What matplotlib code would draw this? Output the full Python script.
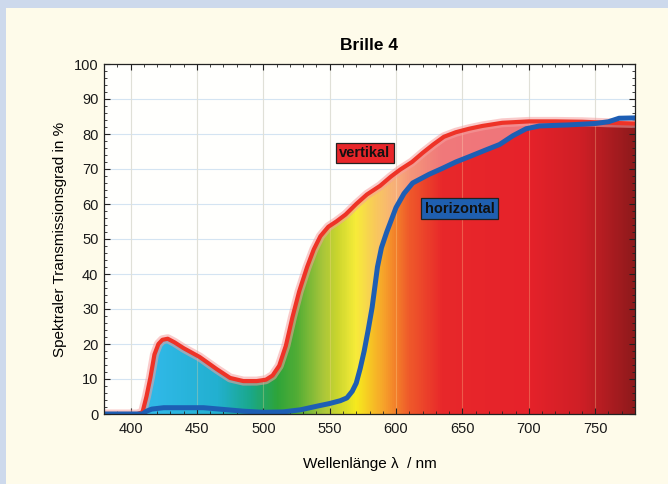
import numpy as np
import matplotlib
matplotlib.use("Agg")
import matplotlib.pyplot as plt
from matplotlib.colors import LinearSegmentedColormap
from matplotlib.patches import Rectangle
from matplotlib.path import Path

plt.rcParams['font.family'] = ['Liberation Sans', 'DejaVu Sans']

# ---- data ----
wl_vert = [380, 405, 409, 412, 415, 418, 421, 424, 428, 433, 440, 452, 465, 475, 485, 495,
           502, 507, 512, 517, 522, 527, 533, 538, 543, 549, 555, 562, 570, 578, 588, 596,
           603, 612, 620, 628, 636, 645, 655, 665, 680, 700, 720, 740, 760, 780]
vertikal = [0, 0, 0.5, 5, 10.5, 17, 20, 21.2, 21.5, 20.5, 18.8, 16.3, 12.8, 10.3, 9.4, 9.4,
            9.8, 11, 13.8, 19.5, 27.7, 35, 42, 47, 50.8, 53.5, 55, 57, 60, 62.7, 65.2, 67.8,
            69.8, 72, 74.6, 77, 79.2, 80.5, 81.5, 82.3, 83.2, 83.6, 83.6, 83.5, 83.2, 83]
wl_hor = [380, 409, 412, 416, 425, 440, 455, 470, 485, 500, 515, 528, 540, 550, 558, 563,
          567, 570, 573, 576, 579, 582, 586, 589, 593, 597, 600, 606, 612.5, 625, 635, 645,
          655, 668, 678, 688, 698, 708, 730, 750, 760, 768, 780]
horizontal = [0, 0, 0.8, 1.4, 1.8, 1.8, 1.8, 1.3, 0.8, 0.5, 0.6, 1.2, 2.2, 3, 3.8, 4.6,
              6.5, 8.8, 13, 18, 24, 30.5, 42, 47.5, 52, 56, 59, 63, 66, 68.5, 70.2, 72,
              73.5, 75.5, 77, 79.5, 81.5, 82.3, 82.6, 83, 83.5, 84.5, 84.6]
x_ticks = [400, 450, 500, 550, 600, 650, 700, 750]
y_ticks = [0, 10, 20, 30, 40, 50, 60, 70, 80, 90, 100]

# spectral gradient stops (wavelength, colour)
spec_wl = [380, 420, 465, 490, 510, 525, 545, 570, 590, 610, 635, 700, 740, 780]
spec_col = ['#2fb8e6', '#2fb8e6', '#22b0d0', '#1aa88a', '#2ea43a', '#52ad35', '#a9c63a',
            '#f6ea1e', '#f7a52a', '#ef5a2a', '#e8282b', '#e6222a', '#cf1f26', '#8f1a1c']

fig = plt.figure(figsize=(6.68, 4.84), dpi=100)
fig.patch.set_facecolor('#cdd9ec')
fig.patches.append(Rectangle((6 / 668, 0), 1, 1 - 8 / 484, transform=fig.transFigure,
                             facecolor='#fefbea', edgecolor='none', zorder=-10))

ax = fig.add_axes([104 / 668, 70 / 484, 531 / 668, 350 / 484])
ax.set_facecolor('#fffffd')
ax.set_xlim(380, 780)
ax.set_ylim(0, 100)

# gradient clipped under vertikal curve
pos = [(w - 380) / 400 for w in spec_wl]
cmap = LinearSegmentedColormap.from_list('spec', list(zip(pos, spec_col)))
grad = np.linspace(0, 1, 800).reshape(1, -1)
im = ax.imshow(grad, extent=[380, 780, 0, 100], aspect='auto', cmap=cmap,
               origin='lower', zorder=1, interpolation='bilinear')
poly = ax.fill_between(wl_vert, vertikal, 0, color='none', zorder=0)
im.set_clip_path(poly.get_paths()[0], transform=ax.transData)

# paler zone between the two curves (white veil with alpha ramp along wavelength)
gx = np.linspace(380, 780, 800)
alpha = np.clip((gx - 555) / 45, 0, 1) * 0.38
veil = np.ones((1, 800, 4))
veil[0, :, 3] = alpha
vim = ax.imshow(veil, extent=[380, 780, 0, 100], aspect='auto', origin='lower',
                zorder=2, interpolation='bilinear')
between = list(zip(wl_vert, vertikal)) + list(zip(wl_hor[::-1], horizontal[::-1]))
vim.set_clip_path(Path(between + [between[0]], closed=True), transform=ax.transData)

# grid
for x in x_ticks:
    ax.axvline(x, color='#d4e4f2', lw=0.8, zorder=0.5)
for y in y_ticks[1:-1]:
    ax.axhline(y, color='#d4e4f2', lw=0.8, zorder=0.5)
for x in x_ticks:
    ax.plot([x, x], [0, 100], color=(1, 0.85, 0.6, 0.3), lw=0.8, zorder=1.5)

# curves
ax.plot(wl_vert, vertikal, color='#f5a0a0', lw=6.5, alpha=0.55, zorder=3, solid_joinstyle='round')
ax.plot(wl_vert, vertikal, color='#ee3327', lw=3.0, zorder=4, solid_joinstyle='round')
ax.plot(wl_hor, horizontal, color='#1d5eb4', lw=3.6, zorder=5, solid_joinstyle='round')

# labels
ax.text(576.6, 74.6, 'vertikal', fontsize=10.5, fontweight='bold', ha='center', va='center',
        zorder=6, color='#111111',
        bbox=dict(boxstyle='square,pad=0.22', fc='#e8262a', ec='#222222', lw=0.9))
ax.text(647.8, 58.7, 'horizontal', fontsize=10.5, fontweight='bold', ha='center', va='center',
        zorder=6, color='#111111',
        bbox=dict(boxstyle='square,pad=0.22', fc='#1f5fb0', ec='#222222', lw=0.9))

ax.set_xticks(x_ticks)
ax.set_yticks(y_ticks)
ax.set_xticks(np.arange(380, 781, 10), minor=True)
ax.set_yticks(np.arange(0, 101, 2), minor=True)
ax.tick_params(which='both', direction='in', top=True, right=True, colors='#222222',
               labelsize=10.5, labelcolor='#1a1a1a')
ax.tick_params(which='major', length=4, width=0.8)
ax.tick_params(which='minor', length=2, width=0.6)
ax.tick_params(axis='x', which='major', pad=6)
ax.tick_params(axis='y', which='major', pad=4)
for s in ax.spines.values():
    s.set_color('#222222')
    s.set_linewidth(0.9)
    s.set_zorder(7)

ax.set_title('Brille 4', fontsize=12.5, fontweight='bold', pad=10)
ax.set_xlabel('Wellenlänge λ  / nm', fontsize=11, labelpad=15)
ax.set_ylabel('Spektraler Transmissionsgrad in %', fontsize=11, labelpad=5)

fig.savefig('out.png', dpi=100, facecolor=fig.get_facecolor())
